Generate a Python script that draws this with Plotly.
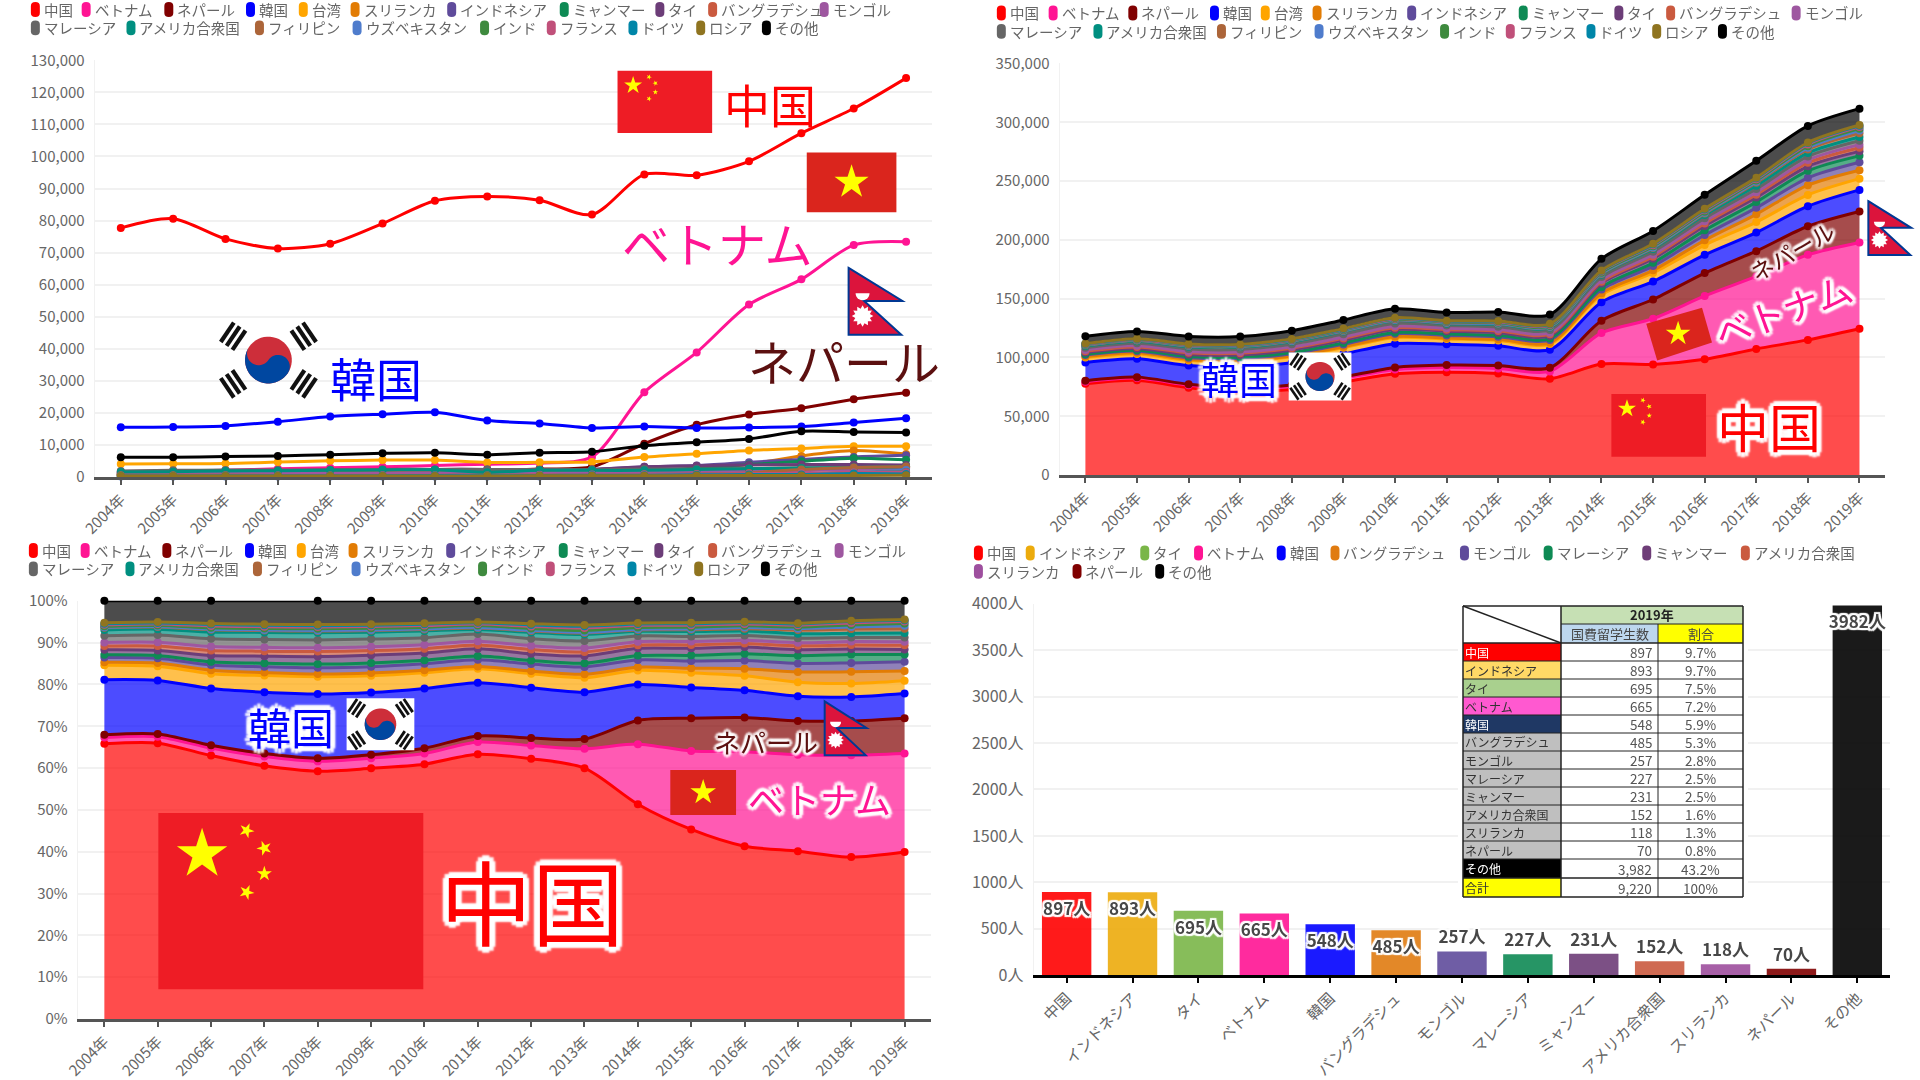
import math
import plotly.graph_objects as go

W, H = 1920, 1080
FONT = "Noto Sans CJK JP"
SCALE = 0.996

years = ["2004年","2005年","2006年","2007年","2008年","2009年","2010年","2011年","2012年","2013年","2014年","2015年","2016年","2017年","2018年","2019年"]

china = [77713,80592,74292,71277,72766,79082,86173,87533,86324,81884,94399,94111,98483,107260,114950,124436]
vietnam = [1750,1900,2100,2600,2900,3200,3600,4030,4370,6290,26440,38880,53810,61670,72350,73390]
nepal = [800,800,800,850,900,1100,1800,2000,2500,3200,10400,16300,19500,21500,24300,26300]
korea = [15530,15610,15970,17270,18860,19610,20200,17640,16700,15300,15780,15280,15460,15740,17010,18340]
taiwan = [4100,4130,4210,4690,5080,5300,5300,4570,4620,4720,6230,7310,8330,8950,9580,9580]
srilanka = [850,950,950,850,800,850,850,800,900,1100,1400,2200,4000,6600,8300,7200]
indonesia = [1300,1400,1500,1600,1800,2000,2200,2200,2300,2400,3200,3600,4600,5500,6300,6800]
myanmar = [800,800,900,1000,1100,1200,1200,1200,1200,1200,1900,2800,3900,4900,5900,5400]
thailand = [1400,1500,1800,2000,2200,2400,2400,2400,2200,2400,3200,3500,3800,3900,3900,3800]
bangladesh = [1100,1300,1400,1400,1500,1500,1500,1300,1400,1300,1400,1700,2000,2400,2900,3100]
mongolia = [1000,1100,1100,1100,1100,1200,1300,1200,1300,1300,1500,1700,1900,2000,2400,2600]
malaysia = [1900,2100,2200,2200,2300,2400,2400,2400,2300,2300,2500,2500,2700,2900,3000,3300]
usa = [1600,1700,1900,2000,2100,2200,2300,1500,2100,2100,2100,2400,2600,2800,3000,3200]
philippines = [600,600,600,500,500,500,500,500,500,500,600,900,1300,2400,3000,3300]
uzbekistan = [150,200,200,200,200,200,200,200,200,200,300,400,600,900,1400,2200]
india = [300,300,400,400,500,500,500,600,600,600,800,900,1000,1000,1400,1600]
france = [400,400,500,500,500,600,600,500,700,800,900,1000,1100,1200,1500,1500]
germany = [300,300,400,400,400,400,500,400,500,600,600,700,800,800,1100,1000]
russia = [300,300,300,300,300,300,300,300,400,400,400,500,500,500,500,600]
others = [6200,6200,6400,6600,7000,7400,7600,7000,7600,7900,9800,10900,11900,14300,14100,13900]

series_names = ["中国","ベトナム","ネパール","韓国","台湾","スリランカ","インドネシア","ミャンマー","タイ","バングラデシュ","モンゴル","マレーシア","アメリカ合衆国","フィリピン","ウズベキスタン","インド","フランス","ドイツ","ロシア","その他"]
series_values = [china,vietnam,nepal,korea,taiwan,srilanka,indonesia,myanmar,thailand,bangladesh,mongolia,malaysia,usa,philippines,uzbekistan,india,france,germany,russia,others]
series_colors = ["#ff0000","#ff1493","#800000","#0000ff","#ffa500","#e27c04","#5f4b9b","#0e8a54","#6c3d78","#ca5a3f","#9e57a0","#666666","#008f80","#ac6539","#4f7ccc","#3e8a3e","#c0507a","#0086a8","#8f7420","#000000"]

bar_names = ["中国","インドネシア","タイ","ベトナム","韓国","バングラデシュ","モンゴル","マレーシア","ミャンマー","アメリカ合衆国","スリランカ","ネパール","その他"]
bar_values = [897,893,695,665,548,485,257,227,231,152,118,70,3982]
bar_shares = ["9.7%","9.7%","7.5%","7.2%","5.9%","5.3%","2.8%","2.5%","2.5%","1.6%","1.3%","0.8%","43.2%"]
bar_colors = ["#ff0000","#ecab0c","#7ab648","#ff1493","#0000ff","#e07b10","#5f4b9b","#0e8a54","#6e3d78","#ca5a3f","#9e4f9e","#800000","#000000"]
table_fills = ["#ff0000","#ffd966","#a9d08e","#ff59d0","#1f3864","#bfbfbf","#bfbfbf","#bfbfbf","#bfbfbf","#bfbfbf","#bfbfbf","#bfbfbf","#000000"]
table_text = ["#ffffff","#333333","#333333","#333333","#ffffff","#333333","#333333","#333333","#333333","#333333","#333333","#333333","#ffffff"]
total_label, total_value, total_share = "合計", 9220, "100%"


def fx(px):
    off = 960 if px >= 960 else 0
    return (off + (px - off) * SCALE) / W


def fy(py):
    off = 540 if py >= 540 else 0
    return 1 - (off + (py - off) * SCALE) / H


def rawx(px):
    return 960 + (px - 960) / SCALE


def rawy(py):
    return 540 + (py - 540) / SCALE


shapes, annotations = [], []


def rgba(hexcolor, a):
    r, g, b = int(hexcolor[1:3], 16), int(hexcolor[3:5], 16), int(hexcolor[5:7], 16)
    return f"rgba({r},{g},{b},{a})"


def poly(points, fill, line=None, lw=0, close=True):
    d = "M" + " L".join(f"{fx(x):.5f},{fy(y):.5f}" for x, y in points) + (" Z" if close else "")
    shapes.append(dict(type="path", xref="paper", yref="paper", path=d, fillcolor=fill,
                       line=dict(color=line or fill, width=lw), layer="above"))


def rect(x0, y0, x1, y1, fill, line=None, lw=0):
    shapes.append(dict(type="rect", xref="paper", yref="paper", x0=fx(x0), x1=fx(x1), y0=fy(y1), y1=fy(y0),
                       fillcolor=fill, line=dict(color=line or fill, width=lw), layer="above"))


def seg(x0, y0, x1, y1, color="#222222", lw=1):
    shapes.append(dict(type="line", xref="paper", yref="paper", x0=fx(x0), x1=fx(x1), y0=fy(y0), y1=fy(y1),
                       line=dict(color=color, width=lw), layer="above"))


def text(px, py, s, size, color="#666666", anchor="center", angle=0, weight="normal", halo=0):
    font = dict(family=FONT, size=size, color=color, weight=weight)
    if halo:
        dirs = [(1,0),(-1,0),(0,1),(0,-1),(.7,.7),(-.7,.7),(.7,-.7),(-.7,-.7)]
        font["shadow"] = ", ".join(f"{dx*halo:.1f}px {dy*halo:.1f}px 2px #ffffff" for dx, dy in dirs)
    annotations.append(dict(xref="paper", yref="paper", x=fx(px), y=fy(py), text=s, showarrow=False,
                            xanchor=anchor, yanchor="middle", textangle=angle, font=font,
                            borderpad=0, borderwidth=0))


def star(cx, cy, r, color="#ffff00", rot=0.0, n=5, inner=0.382):
    pts = []
    for i in range(2 * n):
        rad = r if i % 2 == 0 else r * inner
        a = -math.pi / 2 + rot + i * math.pi / n
        pts.append((cx + rad * math.cos(a), cy + rad * math.sin(a)))
    poly(pts, color)


def china_flag(x0, y0, x1, y1):
    w, h = x1 - x0, y1 - y0
    rect(x0, y0, x1, y1, "#ee1c25")
    star(x0 + .165 * w, y0 + .235 * h, .1 * w)
    for fxx, fyy, rot in [(.333, .10, .4), (.40, .20, .9), (.40, .345, 0), (.333, .45, .4)]:
        star(x0 + fxx * w, y0 + fyy * h, .03 * w, rot=rot)


def vietnam_flag(x0, y0, x1, y1):
    rect(x0, y0, x1, y1, "#da251d")
    star((x0 + x1) / 2, (y0 + y1) / 2, .3 * (y1 - y0))


def nepal_flag(x0, y0, x1, y1):
    w, h = x1 - x0, y1 - y0
    pts = [(x0, y0), (x0 + w, y0 + .495 * h), (x0 + .29 * w, y0 + .495 * h), (x0 + .98 * w, y1), (x0, y1)]
    poly(pts, "#dc143c", "#003893", 2)
    star(x0 + .26 * w, y0 + .72 * h, .2 * w, "#ffffff", n=12, inner=.7)
    mx, my, mr = x0 + .26 * w, y0 + .38 * h, .13 * w
    poly([(mx + mr * math.cos(t / 12 * math.pi), my + mr * math.sin(t / 12 * math.pi)) for t in range(0, 13)] , "#ffffff")


def korea_flag(x0, y0, x1, y1, white=True):
    if white:
        rect(x0, y0, x1, y1, "#ffffff")
    cx, cy = (x0 + x1) / 2, (y0 + y1) / 2
    r = .305 * (y1 - y0)
    tilt = math.radians(34)

    def rot(x, y, a=tilt):
        return cx + x * math.cos(a) - y * math.sin(a), cy + x * math.sin(a) + y * math.cos(a)

    circle = [rot(r * math.cos(i / 24 * math.pi), r * math.sin(i / 24 * math.pi)) for i in range(48)]
    poly(circle, "#cd2e3a")
    blue = []
    for i in range(25):
        t = math.pi - i / 24 * math.pi
        blue.append(rot(-r / 2 + r / 2 * math.cos(t), r / 2 * math.sin(t)))
    for i in range(25):
        t = math.pi + i / 24 * math.pi
        blue.append(rot(r / 2 + r / 2 * math.cos(t), r / 2 * math.sin(t)))
    for i in range(25):
        t = i / 24 * math.pi
        blue.append(rot(r * math.cos(t), r * math.sin(t)))
    poly(blue, "#0047a0")
    for deg in (34, 146, 214, 326):
        a = math.radians(deg)
        for d in (1.52, 1.82, 2.12):
            mx, my = cx + d * r * math.cos(a), cy + d * r * math.sin(a)
            ux, uy = math.cos(a), math.sin(a)
            vx, vy = -uy, ux
            L, T = .5 * r, .09 * r
            poly([(mx + vx * L + ux * T, my + vy * L + uy * T), (mx - vx * L + ux * T, my - vy * L + uy * T),
                  (mx - vx * L - ux * T, my - vy * L - uy * T), (mx + vx * L - ux * T, my + vy * L - uy * T)], "#111111")


def legend(names, colors, rows_x, rows_y):
    i = 0
    for xs, y in zip(rows_x, rows_y):
        for x in xs:
            c = colors[i]
            top, bot, l, rr = y - 7.5, y + 7.5, x, x + 9
            d = (f"M{fx(l):.5f},{fy(top+4):.5f} Q{fx(l):.5f},{fy(top):.5f} {fx(l+4.5):.5f},{fy(top):.5f} "
                 f"Q{fx(rr):.5f},{fy(top):.5f} {fx(rr):.5f},{fy(top+4):.5f} L{fx(rr):.5f},{fy(bot-4):.5f} "
                 f"Q{fx(rr):.5f},{fy(bot):.5f} {fx(l+4.5):.5f},{fy(bot):.5f} "
                 f"Q{fx(l):.5f},{fy(bot):.5f} {fx(l):.5f},{fy(bot-4):.5f} Z")
            shapes.append(dict(type="path", xref="paper", yref="paper", path=d, fillcolor=c,
                               line=dict(color=c, width=0), layer="above"))
            text(x + 13, y, names[i], 14.5, "#666666", anchor="left")
            i += 1


fig = go.Figure()


def add_axes(n, left, right, top, bottom, ysize, yargs, xargs):
    xkey, ykey = ("xaxis", "yaxis") if n == 1 else (f"xaxis{n}", f"yaxis{n}")
    a = f"y{n}" if n > 1 else "y"
    b = f"x{n}" if n > 1 else "x"
    fig.layout[xkey] = dict(domain=[fx(left), fx(right)], anchor=a, showgrid=False, zeroline=False,
                            showline=True, linewidth=3, ticks="outside", ticklen=5, tickwidth=1.5, **xargs)
    fig.layout[ykey] = dict(domain=[fy(bottom), fy(top)], anchor=b, showgrid=True, gridcolor="#f1f1f1", gridwidth=2,
                            zeroline=False, showline=True, linecolor="#f1f1f1", linewidth=1, ticks="",
                            ticklabelstandoff=6,
                            tickfont=dict(family=FONT, size=ysize, color="#666666"), **yargs)


year_x = dict(type="category", categoryorder="array", categoryarray=years, range=[-0.5, 15.5],
              tickmode="array", tickvals=years, ticktext=years, linecolor="#555555", tickcolor="#555555",
              tickangle=-45, tickfont=dict(family=FONT, size=15, color="#666666"))
add_axes(1, 95, 936, 60.5, 479, 15, dict(range=[0, 130000], dtick=10000, tick0=0, tickformat=",d"), year_x)
add_axes(2, 1060, 1889, 63.7, 477, 15, dict(range=[0, 350000], dtick=50000, tick0=0, tickformat=",d"), year_x)
add_axes(3, 78, 935, 601, 1021, 15, dict(range=[0, 100], dtick=10, tick0=0, ticksuffix="%"), year_x)
add_axes(4, 1034, 1894, 604, 977, 16, dict(range=[0, 4000], dtick=500, tick0=0, tickformat="d", ticksuffix="人"),
         dict(type="category", categoryorder="array", categoryarray=bar_names, range=[-0.5, 12.5],
              tickmode="array", tickvals=bar_names, ticktext=bar_names, linecolor="#000000", tickcolor="#000000",
              tickangle=-45, tickfont=dict(family=FONT, size=15.5, color="#666666")))

# Line chart
for name, vals, color in zip(series_names, series_values, series_colors):
    fig.add_trace(go.Scatter(x=years, y=vals, name=name, mode="lines+markers", xaxis="x", yaxis="y",
                             line=dict(color=color, width=3, shape="spline", smoothing=0.8),
                             marker=dict(color=color, size=8), cliponaxis=False, showlegend=False))
# Stacked area
for name, vals, color in zip(series_names, series_values, series_colors):
    fig.add_trace(go.Scatter(x=years, y=vals, name=name, mode="lines+markers", xaxis="x2", yaxis="y2",
                             stackgroup="abs", fillcolor=rgba(color, 0.7),
                             line=dict(color=color, width=3, shape="spline", smoothing=0.8),
                             marker=dict(color=color, size=8), cliponaxis=False, showlegend=False))
# Percent stacked area
for name, vals, color in zip(series_names, series_values, series_colors):
    fig.add_trace(go.Scatter(x=years, y=vals, name=name, mode="lines+markers", xaxis="x3", yaxis="y3",
                             stackgroup="pct", groupnorm="percent", fillcolor=rgba(color, 0.7),
                             line=dict(color=color, width=3, shape="spline", smoothing=0.8),
                             marker=dict(color=color, size=8), cliponaxis=False, showlegend=False))
# Bars
halo_css = ", ".join(f"{dx}px {dy}px 1px #ffffff" for dx, dy in [(2,0),(-2,0),(0,2),(0,-2),(2,2),(-2,2),(2,-2),(-2,-2)])
fig.add_trace(go.Bar(x=bar_names, y=bar_values, xaxis="x4", yaxis="y4", name="国費留学生数", width=0.75,
                     marker=dict(color=bar_colors, line=dict(width=0)), opacity=0.9,
                     text=[f"{v}人" for v in bar_values],
                     textposition=["inside" if v >= 400 else "outside" for v in bar_values],
                     insidetextanchor="end", textangle=0, constraintext="none", cliponaxis=False,
                     textfont=dict(family=FONT, size=17, color="#333333", weight="bold", shadow=halo_css),
                     showlegend=False))

# Legends
legend(series_names, series_colors,
       [[31,82,165,247,300,352,449,562,658,711,823], [31,127,256,354,482,549,631,699,765]], [9.5, 28])
legend(series_names, series_colors,
       [[997,1049,1129,1211,1262,1314,1409,1521,1617,1669,1795], [997,1094,1218,1316,1442,1508,1589,1655,1721]], [13, 31.5])
legend(series_names, series_colors,
       [[29,81,163,246,298,350,448,561,657,711,838], [29,126,254,353,480,548,630,697,764]], [550.5, 569])
legend(bar_names, bar_colors,
       [[974,1026,1141,1195,1278,1332,1462,1546,1645,1744], [974,1073,1156]], [553, 571.5])

# Overlays, chart 1
china_flag(620, 71, 715, 133.5)
text(773, 103, "中国", 46, "#ff0000")
vietnam_flag(810, 153, 900, 213)
text(720, 243, "ベトナム", 48, "#ff1493")
nepal_flag(852, 269, 906, 336)
text(847, 361, "ネパール", 48, "#5c1010")
korea_flag(220, 323, 319, 400, white=False)
text(378, 379, "韓国", 46, "#0000ff")

# Overlays, chart 2
china_flag(1614, 395.5, 1709, 458.5)
text(1772, 427, "中国", 52, "#ff0000", halo=5)
poly([(1649, 325), (1705, 309), (1715, 344), (1660, 362)], "#da251d")
star(1681, 335, 13)
text(1786, 310, "ベトナム", 36, "#ff1493", angle=-20, halo=4)
text(1795, 252, "ネパール", 23, "#5c1010", angle=-30, halo=3)
nepal_flag(1872, 202, 1915, 256)
text(1240, 379, "韓国", 38, "#0000ff", halo=5)
korea_flag(1290, 354, 1353, 402)

# Overlays, chart 3
china_flag(159, 814, 425, 991)
text(534, 900, "中国", 92, "#ff0000", halo=6)
vietnam_flag(673, 771, 739, 816)
text(823, 799, "ベトナム", 36, "#ff1493", halo=4)
text(769, 742, "ネパール", 26, "#5c1010", halo=3)
nepal_flag(828, 702, 870, 756)
text(292, 727, "韓国", 43, "#0000ff", halo=5)
korea_flag(348, 699, 416, 751)

# Table, chart 4
rect(rawx(1458), rawy(600), rawx(1748), rawy(902), "#ffffff")
cols = [rawx(v) for v in (1463, 1561, 1658, 1743)]
row_y = [rawy(v) for v in (606, 624, 643, 661, 679, 697, 715, 733, 751, 769, 787, 805, 823, 841, 859, 878, 897)]
rect(cols[1], row_y[0], cols[3], row_y[1], "#c6e0b4")
rect(cols[1], row_y[1], cols[2], row_y[2], "#bdd7ee")
rect(cols[2], row_y[1], cols[3], row_y[2], "#ffff00")
seg(cols[0], row_y[0], cols[1], row_y[2], "#222222", 1.5)
text((cols[1] + cols[3]) / 2, (row_y[0] + row_y[1]) / 2 - 1, "2019年", 13, "#222222", weight="bold")
text((cols[1] + cols[2]) / 2, (row_y[1] + row_y[2]) / 2, "国費留学生数", 13, "#444444")
text((cols[2] + cols[3]) / 2, (row_y[1] + row_y[2]) / 2, "割合", 13, "#444444")
rows = list(zip(bar_names, bar_values, bar_shares, table_fills, table_text))
rows.append((total_label, total_value, total_share, "#ffff00", "#333333"))
for i, (nm, val, share, fill, tc) in enumerate(rows):
    y0, y1 = row_y[i + 2], row_y[i + 3]
    ym = (y0 + y1) / 2
    rect(cols[0], y0, cols[1], y1, fill)
    text(cols[0] + 2, ym, nm, 12, tc, anchor="left")
    text(cols[2] - 6, ym, f"{val:,}", 13.5, "#555555", anchor="right")
    text((cols[2] + cols[3]) / 2, ym, share, 13.5, "#555555")
for y in row_y:
    if y == row_y[1]:
        seg(cols[1], y, cols[3], y, "#222222", 1)
    else:
        seg(cols[0], y, cols[3], y, "#222222", 1.5 if y in (row_y[0], row_y[2], row_y[-1], row_y[-2]) else 1)
seg(cols[0], row_y[0], cols[0], row_y[-1], "#222222", 1.5)
seg(cols[1], row_y[0], cols[1], row_y[-1], "#222222", 1.5)
seg(cols[2], row_y[1], cols[2], row_y[-1], "#222222", 1)
seg(cols[3], row_y[0], cols[3], row_y[-1], "#222222", 1.5)

fig.update_layout(width=W, height=H, margin=dict(l=0, r=0, t=0, b=0, autoexpand=False), autosize=False,
                  paper_bgcolor="#ffffff", plot_bgcolor="#ffffff", showlegend=False,
                  font=dict(family=FONT), shapes=shapes, annotations=annotations, bargap=0.25)

fig.write_html("out.html", config=dict(displayModeBar=False),
               post_script="document.body.style.margin='0';document.documentElement.style.overflow='hidden';")
